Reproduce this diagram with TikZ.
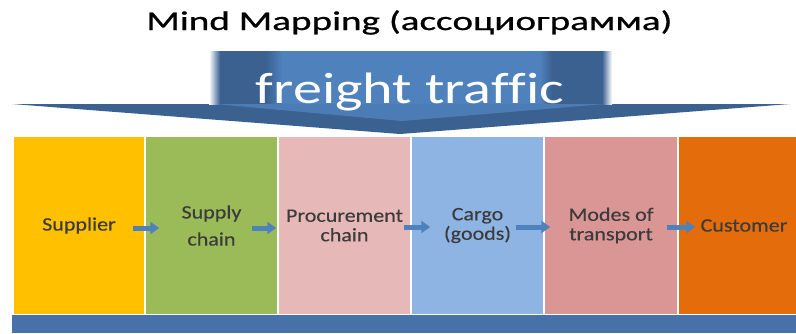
\documentclass[tikz,border=0pt]{standalone}
\usepackage{fontspec}
\setmainfont{Carlito}
\newfontfamily\titlefont{Carlito}[FakeStretch=1.45,FakeBold=0.8]
\newfontfamily\bigfont{Carlito}[FakeStretch=1.32,Ligatures=NoCommon]
\newfontfamily\colfont{Carlito}[FakeStretch=1.16,FakeBold=0.3]
\usetikzlibrary{arrows.meta}
\definecolor{cyellow}{HTML}{FFC000}
\definecolor{cgreen}{HTML}{9BBB59}
\definecolor{cpink}{HTML}{E6B9B8}
\definecolor{cblue}{HTML}{8EB4E3}
\definecolor{crose}{HTML}{D99694}
\definecolor{corange}{HTML}{E46C0A}
\definecolor{darkblue}{HTML}{3B6190}
\definecolor{midblue}{HTML}{4F81BD}
\definecolor{barblue}{HTML}{4672A9}
\definecolor{txtgray}{HTML}{3B3B3B}
\begin{document}
\begin{tikzpicture}[x=1pt,y=-1pt,
  col/.style={draw=white, line width=1.5pt, inner sep=0pt, minimum height=179pt,
    align=center, text=txtgray, font=\colfont\fontsize{19}{19.5}\selectfont},
  blk/.style={draw=midblue, line width=5pt, -{Triangle[length=9pt,width=12pt]}}]
\useasboundingbox (0,0) rectangle (796,333);
% title
\node[anchor=base, inner sep=0pt, font=\titlefont\fontsize{27}{30}\selectfont] (title) at (409.5,30) {Mind Mapping (ассоциограмма)};
% big arrow head
\fill[darkblue] (12,104) -- (790,104) -- (400,134) -- cycle;
% shaft
\fill[darkblue] (215,51) rectangle (605,106);
\fill[left color=white, right color=darkblue] (209,51) rectangle (220,104);
\fill[left color=darkblue, right color=white] (602,51) rectangle (612,104);
\fill[midblue] (276,51) rectangle (545,108);
\fill[left color=darkblue, right color=midblue] (266,51) rectangle (282,106);
\fill[left color=midblue, right color=darkblue] (540,51) rectangle (552,106);
\fill[midblue!85!darkblue] (215,104) -- (605,104) -- (402,121) -- cycle;
\node[anchor=base, inner sep=0pt, text=white, font=\bigfont\fontsize{44}{48}\selectfont] (freight) at (410,103) {freight traffic};
% columns
\node[col, fill=cyellow, minimum width=132pt] (c1) at (79,225.5) {Supplier};
\node[col, fill=cgreen, minimum width=133pt, font=\colfont\fontsize{19}{27}\selectfont] (c2) at (211.5,225.5) {Supply\\chain};
\node[col, fill=cpink, minimum width=133pt] (c3) at (344.5,225.5) {Procurement\\chain};
\node[col, fill=cblue, minimum width=133pt] (c4) at (477.5,225.5) {Cargo\\(goods)};
\node[col, fill=crose, minimum width=134pt] (c5) at (611,225.5) {Modes of\\transport};
\node[col, fill=corange, minimum width=132pt] (c6) at (744,225.5) {Customer};
% bottom bar
\fill[barblue] (12,315) rectangle (796,333);
% small arrows
\draw[blk] ([xshift=-13pt,yshift=-2.5pt]c1.east) -- ([xshift=15pt,yshift=-2.5pt]c2.west);
\draw[blk] ([xshift=-27pt,yshift=-2.5pt]c2.east) -- ([xshift=-1pt,yshift=-2.5pt]c3.west);
\draw[blk] ([xshift=-8pt,yshift=-1.5pt]c3.east) -- ([xshift=20pt,yshift=-1.5pt]c4.west);
\draw[blk] ([xshift=-29pt,yshift=-1.5pt]c4.east) -- ([xshift=7pt,yshift=-1.5pt]c5.west);
\draw[blk] ([xshift=-12pt,yshift=-1.5pt]c5.east) -- ([xshift=18pt,yshift=-1.5pt]c6.west);
\end{tikzpicture}
\end{document}
